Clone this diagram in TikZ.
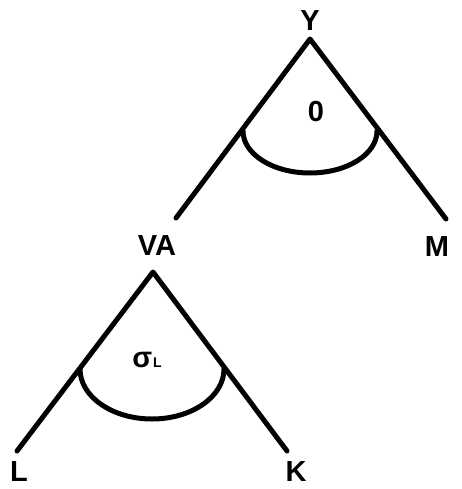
\documentclass[tikz,border=0pt]{standalone}
\usepackage{fontspec}
\setmainfont{Liberation Sans}
\begin{document}
\begin{tikzpicture}[x=1pt,y=-1pt,
  lbl/.style={font=\fontsize{29}{29}\selectfont\bfseries, inner sep=0pt},
  edge/.style={line width=5pt, line cap=round, line join=round},
  arcline/.style={line width=5pt, line cap=round}]
\useasboundingbox (0,0) rectangle (462,489);
% labels
\node[lbl] (Y) at (310,21) {Y};
\node[lbl] (zero) at (316,112) {0};
\node[lbl] (VA) at (157,246) {VA};
\node[lbl] (M) at (437,247) {M};
\node[lbl] (L) at (19,472) {L};
\node[lbl] (K) at (296,472) {K};
\node[lbl, anchor=base] (sig) at (147,367) {σ\kern1pt{\fontsize{14}{14}\selectfont L}};
% upper tree
\coordinate (a1) at (310,39);
\coordinate (l1) at (176,218);
\coordinate (r1) at (446,219);
\draw[edge] (l1) -- (a1) -- (r1);
\coordinate (p1) at (243,131);
\draw[arcline] (p1) arc[start angle=180, end angle=360, x radius=67, y radius=-42];
% lower tree
\coordinate (a2) at (153,272);
\coordinate (l2) at (17,451);
\coordinate (r2) at (287,451);
\draw[edge] (l2) -- (a2) -- (r2);
\coordinate (p2) at (80,369);
\draw[arcline] (p2) arc[start angle=180, end angle=360, x radius=72, y radius=-50];
\end{tikzpicture}
\end{document}
